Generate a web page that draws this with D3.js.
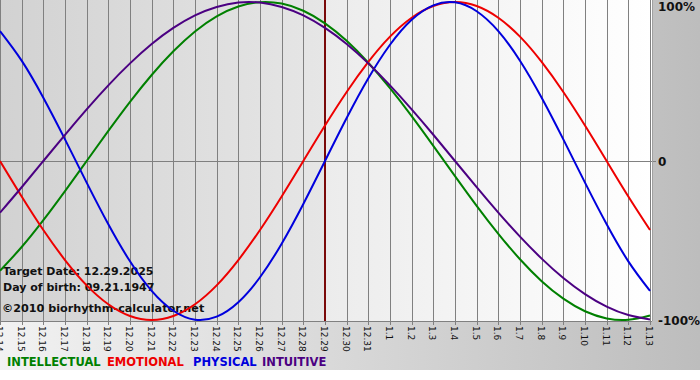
<!DOCTYPE html>
<html><head><meta charset="utf-8">
<script src="https://cdn.jsdelivr.net/npm/d3@7/dist/d3.min.js"></script>
<style>body{margin:0;background:#fff}svg{display:block}</style>
</head><body><svg id="c" width="700" height="380"></svg>
<script>
const dates = ["12.14","12.15","12.16","12.17","12.18","12.19","12.20","12.21","12.22","12.23","12.24","12.25","12.26","12.27","12.28","12.29","12.30","12.31","1.1","1.2","1.3","1.4","1.5","1.6","1.7","1.8","1.9","1.10","1.11","1.12","1.13"];
const targetDate = "12.29";
const intellectual = [-69.0,-54.1,-37.2,-18.9,0,18.9,37.2,54.1,69.0,81.5,91.0,97.2,99.9,99.0,94.5,86.6,75.6,61.8,45.8,28.2,9.5,-9.5,-28.2,-45.8,-61.8,-75.6,-86.6,-94.5,-99.0,-99.9,-97.2];
const emotional = [0,-22.3,-43.4,-62.3,-78.2,-90.1,-97.5,-100,-97.5,-90.1,-78.2,-62.3,-43.4,-22.3,0,22.3,43.4,62.3,78.2,90.1,97.5,100,97.5,90.1,78.2,62.3,43.4,22.3,0,-22.3,-43.4];
const physical = [81.7,63.1,39.8,13.6,-13.6,-39.8,-63.1,-81.7,-94.2,-99.8,-97.9,-88.8,-73.1,-52.0,-27.0,0,27.0,52.0,73.1,88.8,97.9,99.8,94.2,81.7,63.1,39.8,13.6,-13.6,-39.8,-63.1,-81.7];
const intuitive = [-32.5,-16.5,0,16.5,32.5,47.6,61.4,73.6,83.7,91.6,96.9,99.7,99.7,96.9,91.6,83.7,73.6,61.4,47.6,32.5,16.5,0,-16.5,-32.5,-47.6,-61.4,-73.6,-83.7,-91.6,-96.9,-99.7];
const yTicks = [100, 0, -100];
const yTickLabels = ["100%", "0", "-100%"];
const seriesNames = ["INTELLECTUAL","EMOTIONAL","PHYSICAL","INTUITIVE"];
const seriesColors = ["#008000","#ee0000","#0000dd","#4b0082"];
const seriesData = [intellectual, emotional, physical, intuitive];

const svg = d3.select("#c");
const defs = svg.append("defs");
function grad(id, stops){
  const gr = defs.append("linearGradient").attr("id", id).attr("x1","0").attr("x2","1").attr("y1","0").attr("y2","0");
  stops.forEach(s => gr.append("stop").attr("offset", s[0]).attr("stop-color", s[1]));
}
grad("bgG", [[0,"#f2f2f2"],[1,"#bdbdbd"]]);
grad("pastG", [[0,"#d2d2d2"],[1,"#e6e6e6"]]);
grad("futG", [[0,"#ececec"],[1,"#ffffff"]]);

const W = 652, yTop = 2, yBot = 320, plotBottom = 321;
const x = d3.scaleLinear().domain([0, dates.length - 1]).range([0, 650]);
const y = d3.scaleLinear().domain([-100, 100]).range([yBot, yTop]);
const ti = dates.indexOf(targetDate);

svg.append("rect").attr("x",0).attr("y",0).attr("width",700).attr("height",370).attr("fill","url(#bgG)");
svg.append("rect").attr("x",0).attr("y",0).attr("width",x(ti)).attr("height",plotBottom).attr("fill","url(#pastG)");
svg.append("rect").attr("x",x(ti)).attr("y",0).attr("width",W - x(ti)).attr("height",plotBottom).attr("fill","url(#futG)");

const g = svg.append("g");
dates.forEach((d,i) => {
  g.append("line").attr("x1", Math.round(x(i))+0.5).attr("x2", Math.round(x(i))+0.5)
   .attr("y1", 0).attr("y2", plotBottom + 4).attr("stroke", "#808080").attr("stroke-width", 1);
});
g.append("line").attr("x1",0).attr("x2",W+4).attr("y1",Math.round(y(0))+0.5).attr("y2",Math.round(y(0))+0.5)
  .attr("stroke","#808080");
g.append("line").attr("x1",0).attr("x2",W).attr("y1",plotBottom+0.5).attr("y2",plotBottom+0.5).attr("stroke","#808080");
g.append("line").attr("x1",W+0.5).attr("x2",W+0.5).attr("y1",0).attr("y2",plotBottom).attr("stroke","#a0a0a0");

const info = svg.append("g").attr("font-family","DejaVu Sans, Verdana, sans-serif").attr("font-weight","bold").attr("fill","#111");
info.append("text").attr("x",3).attr("y",275).attr("font-size",11).text("Target Date: 12.29.2025");
info.append("text").attr("x",3).attr("y",291).attr("font-size",11).text("Day of birth: 09.21.1947");
info.append("text").attr("x",2).attr("y",312).attr("font-size",11.2).text("©2010 biorhythm-calculator.net");

svg.append("line").attr("x1",x(ti)).attr("x2",x(ti)).attr("y1",0).attr("y2",plotBottom)
  .attr("stroke","#7a0a0a").attr("stroke-width",2);

const line = d3.line().x((d,i)=>x(i)).y(d=>y(d)).curve(d3.curveNatural);
seriesData.forEach((s,k) => {
  svg.append("path").attr("d", line(s)).attr("fill","none").attr("stroke",seriesColors[k]).attr("stroke-width",2);
});

yTicks.forEach((v,i) => {
  svg.append("text").attr("x", 658).attr("y", y(v) + 5 + (i===0?4:0))
    .attr("font-family","DejaVu Sans, Verdana, sans-serif").attr("font-weight","bold").attr("font-size",12)
    .attr("fill","#111").text(yTickLabels[i]);
});

dates.forEach((d,i) => {
  svg.append("text").attr("transform", `translate(${x(i)-4},${plotBottom+5}) rotate(90)`)
    .attr("font-family","DejaVu Sans, Verdana, sans-serif").attr("font-size",9).attr("fill","#111")
    .text(d);
});

const legX = [7, 107, 193, 262];
seriesNames.forEach((n,k) => {
  svg.append("text").attr("x", legX[k]).attr("y", 366)
    .attr("font-family","DejaVu Sans, Verdana, sans-serif").attr("font-size",11.5).attr("font-weight","bold")
    .attr("fill", seriesColors[k]).text(n);
});
</script></body></html>
